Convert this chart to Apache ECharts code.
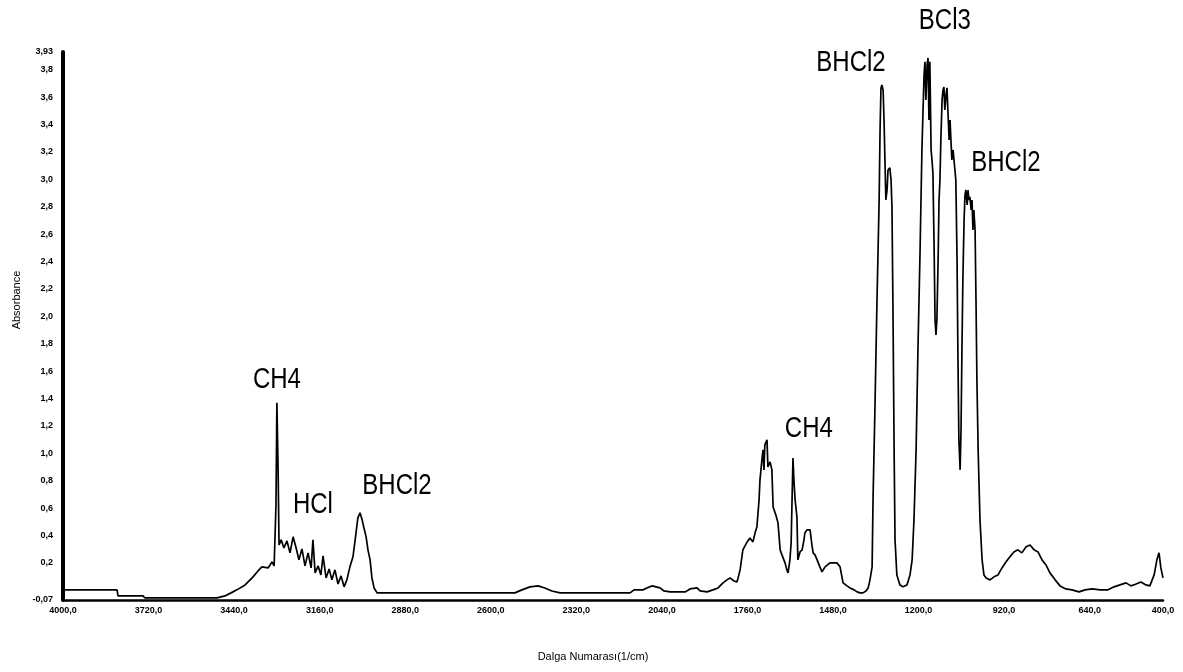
<!DOCTYPE html>
<html>
<head>
<meta charset="utf-8">
<script src="https://cdn.jsdelivr.net/npm/echarts@6/dist/echarts.min.js"></script>
<style>
  html, body { margin: 0; padding: 0; background: #fff; }
  #chart { width: 1183px; height: 672px; }
</style>
</head>
<body>
<div id="chart"></div>
<script>
// FTIR spectrum of the gas-phase products: wavenumber (1/cm) and absorbance
const wavenumber = [
  4000, 3823, 3820, 3738, 3732, 3535, 3496, 3470, 3450, 3431, 3404, 3378, 3362, 3349, 3329, 3316, 3309,
  3303, 3300, 3296, 3293, 3286, 3277, 3267, 3257, 3247, 3237, 3228, 3218, 3208, 3198, 3188, 3182, 3175,
  3165, 3156, 3149, 3139, 3129, 3120, 3110, 3100, 3090, 3080, 3071, 3061, 3051, 3041, 3035, 3028, 3021,
  3015, 3008, 3002, 2995, 2989, 2982, 2972, 2963,
  2832, 2668, 2521, 2498, 2472, 2445, 2423, 2400, 2373, 2243, 2144, 2131, 2102, 2089, 2072, 2046, 2033,
  2013, 1964, 1948, 1925, 1915, 1892, 1873, 1856,
  1840, 1827, 1817, 1804, 1794, 1784, 1775, 1761, 1752, 1742, 1735, 1729, 1722, 1719, 1712, 1709, 1706,
  1703, 1696, 1693, 1686, 1680, 1676, 1667, 1660, 1653, 1647, 1637, 1631, 1627, 1621, 1617, 1614, 1611,
  1608, 1604, 1598, 1595, 1588, 1581, 1575, 1572, 1565, 1555, 1549, 1545, 1539, 1532, 1523, 1516, 1513,
  1506, 1500, 1490, 1477, 1467, 1457, 1447, 1434, 1424, 1411, 1401, 1392, 1382, 1372, 1365, 1359, 1352,
  1349, 1343, 1336, 1329, 1326, 1323, 1320, 1316, 1313, 1310,
  1307, 1303, 1300, 1294, 1290, 1287, 1284, 1280, 1277, 1271, 1261, 1251, 1238, 1228, 1221, 1215, 1208,
  1202, 1195, 1189, 1182, 1179, 1176, 1172, 1169, 1166, 1163, 1159, 1156, 1153, 1149, 1146, 1143, 1140,
  1136, 1133, 1130, 1127, 1123, 1120, 1117, 1114, 1110, 1107, 1104, 1100, 1097, 1094, 1091, 1087, 1081,
  1078, 1074, 1071, 1068, 1064, 1061, 1058, 1055, 1051, 1048, 1045, 1041, 1038, 1035, 1032, 1028, 1025,
  1022, 1019, 1015, 1012, 1009, 1005, 999, 992, 986, 979,
  966, 953, 940, 927, 914, 901, 888, 875, 862, 848, 835, 822, 809, 796, 783, 770, 753, 737, 718, 698,
  675, 655, 632, 606, 580, 560, 541, 521, 505, 488, 472, 456, 443, 429, 420, 413, 407, 400
];
const absorbance = [
  0.004, 0.004, -0.040, -0.040, -0.055, -0.055, -0.055, -0.040, -0.018, 0.004, 0.040, 0.099, 0.142, 0.172, 0.164, 0.208, 0.179,
  0.624, 1.369, 0.880, 0.332, 0.369, 0.310, 0.361, 0.274, 0.391, 0.310, 0.223, 0.303, 0.179, 0.274, 0.164, 0.369, 0.128,
  0.179, 0.113, 0.252, 0.091, 0.157, 0.077, 0.150, 0.047, 0.106, 0.026, 0.077, 0.172, 0.245, 0.420, 0.529, 0.566, 0.515,
  0.456, 0.391, 0.296, 0.223, 0.091, 0.018, -0.018, -0.018,
  -0.018, -0.018, -0.018, 0.004, 0.026, 0.033, 0.018, -0.004, -0.018, -0.018, -0.018, 0.004, 0.004, 0.018, 0.033, 0.018, -0.004,
  -0.011, -0.011, 0.011, 0.018, -0.004, -0.011, 0.004, 0.018,
  0.055, 0.077, 0.091, 0.069, 0.062, 0.150, 0.296, 0.354, 0.383, 0.354, 0.420, 0.464, 0.661, 0.807, 0.967, 1.026, 0.880,
  1.062, 1.099, 0.901, 0.938, 0.880, 0.609, 0.551, 0.493, 0.296, 0.259, 0.201, 0.150, 0.128, 0.223, 0.347, 0.661, 0.967,
  0.807, 0.661, 0.536, 0.223, 0.281, 0.296, 0.369, 0.420, 0.442, 0.442, 0.332, 0.274, 0.259, 0.223, 0.172, 0.135, 0.128,
  0.172, 0.172, 0.201, 0.201, 0.201, 0.172, 0.055, 0.033, 0.018, 0.004, -0.011, -0.018, -0.018, -0.004, 0.018, 0.077, 0.172,
  0.661, 1.296, 2.120, 2.850, 3.361, 3.668, 3.690, 3.653, 3.434, 3.142,
  2.850, 2.923, 3.069, 3.084, 2.996, 2.799, 2.120, 1.026, 0.369, 0.113, 0.040, 0.026, 0.040, 0.113, 0.223, 0.515, 1.026,
  1.756, 2.485, 3.215, 3.763, 3.858, 3.580, 3.836, 3.887, 3.434, 3.858, 3.215, 3.142, 3.047, 2.485, 1.974, 1.865, 1.974,
  2.412, 2.850, 2.996, 3.288, 3.580, 3.653, 3.675, 3.507, 3.617, 3.668, 3.507, 3.288, 3.434, 3.288, 3.142, 3.215, 3.069,
  2.996, 2.412, 1.683, 1.099, 0.880, 1.172, 1.756, 2.266, 2.704, 2.887, 2.923, 2.814, 2.923, 2.850, 2.872, 2.777, 2.850,
  2.631, 2.777, 2.631, 2.120, 1.536, 1.026, 0.515, 0.223, 0.113, 0.091,
  0.077, 0.099, 0.113, 0.164, 0.208, 0.245, 0.281, 0.296, 0.274, 0.318, 0.332, 0.296, 0.281, 0.223, 0.186, 0.128, 0.077, 0.033, 0.011, 0.004,
  -0.011, 0.004, 0.011, 0.004, 0.004, 0.026, 0.040, 0.055, 0.033, 0.047, 0.062, 0.040, 0.033, 0.113, 0.223, 0.274, 0.164, 0.091
];

// Axis ticks
const xTicks = [4000, 3720, 3440, 3160, 2880, 2600, 2320, 2040, 1760, 1480, 1200, 920, 640, 400];
const yTicks = [-0.07, 0.2, 0.4, 0.6, 0.8, 1.0, 1.2, 1.4, 1.6, 1.8, 2.0, 2.2, 2.4, 2.6, 2.8, 3.0, 3.2, 3.4, 3.6, 3.8, 3.93];

// Band assignments written on the spectrum (text centre in data units)
const bandNames = ['CH4', 'HCl', 'BHCl2', 'CH4', 'BHCl2', 'BCl3', 'BHCl2'];
const bandX = [3300, 3182, 2907, 1559, 1421, 1114, 914];
const bandY = [1.537, 0.624, 0.763, 1.179, 3.850, 4.157, 3.124];

const spectrum = wavenumber.map((w, i) => [w, absorbance[i]]);
const comma = (v, d) => v.toFixed(d).replace('.', ',');
const FONT = '"Liberation Sans", Arial, sans-serif';

const chart = echarts.init(document.getElementById('chart'), null, { renderer: 'canvas' });
chart.setOption({
  backgroundColor: '#ffffff',
  animation: false,
  grid: { left: 63, right: 20, top: 52, bottom: 72, containLabel: false },
  xAxis: {
    type: 'value',
    inverse: true,
    min: 400,
    max: 4000,
    axisLine: { show: true, onZero: false, lineStyle: { color: '#000', width: 2.5 } },
    axisTick: { show: false, customValues: xTicks },
    splitLine: { show: false },
    axisLabel: {
      customValues: xTicks,
      formatter: v => comma(v, 1),
      color: '#000',
      fontFamily: FONT,
      fontSize: 9,
      fontWeight: 'bold',
      margin: 6
    }
  },
  yAxis: {
    type: 'value',
    min: -0.07,
    max: 3.93,
    axisLine: { show: true, onZero: false, lineStyle: { color: '#000', width: 4 } },
    axisTick: { show: true, customValues: yTicks, length: 2, lineStyle: { color: '#000', width: 1 } },
    splitLine: { show: false },
    axisLabel: {
      customValues: yTicks,
      formatter: v => (v === -0.07 || v === 3.93) ? comma(v, 2) : comma(v, 1),
      color: '#000',
      fontFamily: FONT,
      fontSize: 9,
      fontWeight: 'bold',
      margin: 10
    }
  },
  series: [
    {
      type: 'line',
      data: spectrum,
      showSymbol: false,
      symbol: 'none',
      lineStyle: { color: '#000', width: 1.7 },
      silent: true,
      clip: true
    }
  ]
});

// Axis titles and band labels (labels placed from their data positions, drawn condensed)
const graphics = [
  {
    type: 'text', x: 17, y: 300, rotation: Math.PI / 2,
    style: { text: 'Absorbance', fill: '#000', font: '11px ' + FONT, textAlign: 'center', textVerticalAlign: 'middle' }
  },
  {
    type: 'text', x: 593, y: 657,
    style: { text: 'Dalga Numarası(1/cm)', fill: '#000', font: '11px ' + FONT, textAlign: 'center', textVerticalAlign: 'middle' }
  }
];
bandNames.forEach((name, i) => {
  const p = chart.convertToPixel({ gridIndex: 0 }, [bandX[i], bandY[i]]);
  graphics.push({
    type: 'text', x: p[0], y: p[1], scaleX: 0.8, scaleY: 1,
    style: { text: name, fill: '#000', font: '30px ' + FONT, textAlign: 'center', textVerticalAlign: 'middle' }
  });
});
chart.setOption({ graphic: graphics });
</script>
</body>
</html>
